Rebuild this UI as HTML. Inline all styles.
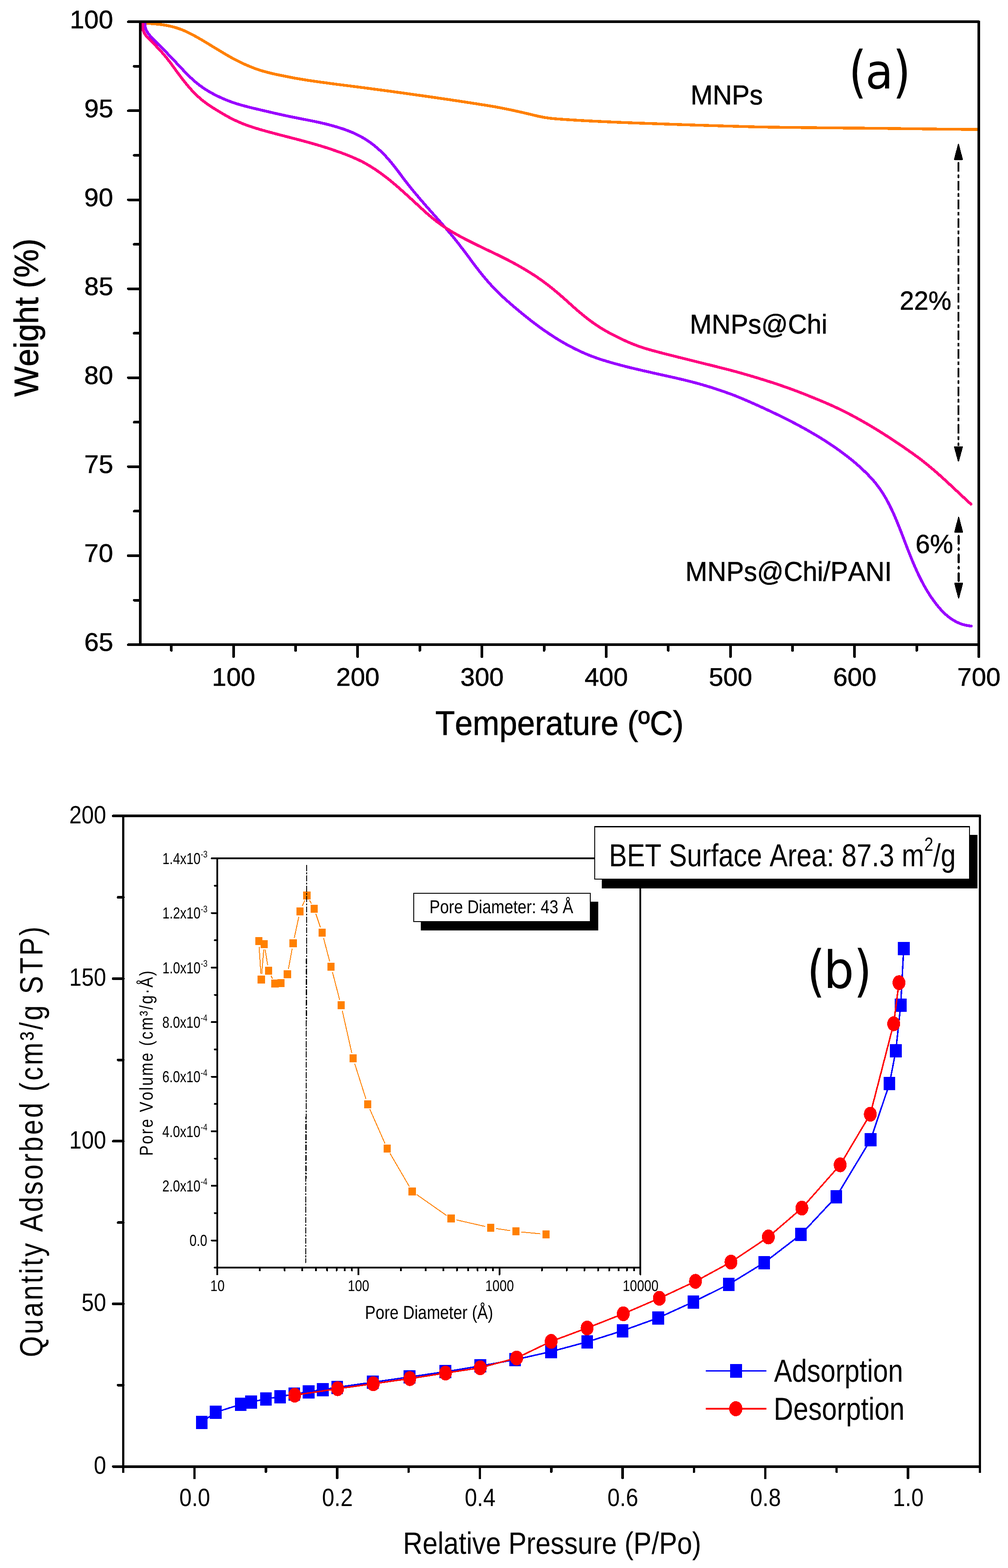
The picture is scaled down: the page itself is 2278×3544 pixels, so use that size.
<!DOCTYPE html>
<html lang="en"><head><meta charset="utf-8"><title>TGA curves and N2 adsorption-desorption isotherm</title>
<style>
html,body{margin:0;padding:0;background:#fff;}
body{width:2278px;height:3544px;overflow:hidden;}
svg{display:block;shape-rendering:crispEdges;}
text{font-family:"Liberation Sans",Arial,Helvetica,sans-serif;fill:#000;white-space:pre;font-kerning:none;font-variant-ligatures:none;text-rendering:geometricPrecision;}
.dv{font-family:"DejaVu Sans","Liberation Sans",sans-serif;}
.ax{stroke:#000;fill:none;stroke-linecap:round;}
.cr{shape-rendering:crispEdges;}
</style></head><body>
<svg width="2278" height="3544" viewBox="0 0 2278 3544" role="img" aria-label="TGA curves (a) and nitrogen adsorption-desorption isotherm with pore size distribution (b)">
<rect x="0" y="0" width="2278" height="3544" fill="#fff"/>
<g id="panel-a">
<path d="M321 52.2C323.08 52.3 329.37 52.58 333.5 52.83C337.63 53.07 341.72 53.32 345.79 53.65C349.85 53.98 353.88 54.34 357.87 54.79C361.86 55.23 365.82 55.73 369.75 56.34C373.68 56.95 377.57 57.64 381.43 58.45C385.29 59.26 389.12 60.16 392.92 61.2C396.71 62.24 400.48 63.41 404.21 64.7C407.94 66 411.64 67.42 415.32 68.97C419 70.51 422.65 72.22 426.29 73.99C429.92 75.76 433.53 77.66 437.12 79.58C440.72 81.51 444.29 83.51 447.86 85.54C451.43 87.56 454.98 89.63 458.54 91.73C462.09 93.83 465.63 96 469.17 98.15C472.71 100.29 476.24 102.46 479.77 104.61C483.31 106.76 486.84 108.92 490.37 111.06C493.91 113.2 497.44 115.33 500.98 117.45C504.53 119.56 508.07 121.68 511.62 123.75C515.17 125.82 518.73 127.88 522.29 129.86C525.86 131.83 529.43 133.74 533.02 135.6C536.61 137.46 540.21 139.28 543.82 141.02C547.44 142.75 551.07 144.39 554.71 146.01C558.36 147.62 562.02 149.19 565.71 150.7C569.39 152.2 573.09 153.69 576.82 155.05C580.54 156.4 584.29 157.64 588.06 158.83C591.83 160.02 595.63 161.11 599.44 162.17C603.25 163.22 607.09 164.21 610.94 165.16C614.79 166.1 618.66 166.99 622.54 167.84C626.42 168.68 630.33 169.44 634.24 170.23C638.16 171.03 642.09 171.83 646.03 172.63C649.97 173.43 653.93 174.27 657.89 175.04C661.86 175.81 665.83 176.54 669.82 177.26C673.8 177.97 677.8 178.64 681.8 179.3C685.79 179.96 689.8 180.6 693.81 181.21C697.82 181.83 701.84 182.43 705.86 183.01C709.88 183.6 713.9 184.17 717.93 184.73C721.95 185.29 725.97 185.84 730 186.39C734.02 186.94 738.04 187.48 742.06 188.03C746.08 188.57 750.1 189.13 754.11 189.66C758.13 190.2 762.14 190.72 766.14 191.23C770.15 191.74 774.16 192.22 778.16 192.72C782.16 193.22 786.15 193.72 790.15 194.23C794.15 194.73 798.14 195.24 802.13 195.75C806.12 196.26 810.11 196.78 814.09 197.29C818.08 197.81 822.07 198.33 826.05 198.85C830.03 199.37 834.01 199.89 837.99 200.42C841.97 200.94 845.95 201.47 849.93 202C853.91 202.53 857.88 203.06 861.86 203.6C865.83 204.13 869.81 204.67 873.78 205.21C877.76 205.75 881.73 206.29 885.71 206.83C889.68 207.38 893.65 207.92 897.63 208.47C901.6 209.02 905.58 209.57 909.55 210.12C913.53 210.67 917.5 211.23 921.48 211.78C925.46 212.34 929.43 212.9 933.41 213.46C937.39 214.02 941.37 214.58 945.35 215.14C949.33 215.7 953.31 216.27 957.3 216.84C961.28 217.4 965.27 217.97 969.26 218.54C973.24 219.12 977.23 219.69 981.22 220.26C985.21 220.84 989.2 221.42 993.19 222C997.19 222.58 1001.18 223.16 1005.17 223.74C1009.16 224.33 1013.15 224.92 1017.14 225.51C1021.13 226.1 1025.12 226.69 1029.11 227.29C1033.1 227.89 1037.09 228.49 1041.08 229.09C1045.07 229.69 1049.05 230.3 1053.04 230.91C1057.02 231.52 1061.01 232.13 1064.99 232.75C1068.97 233.37 1072.95 233.99 1076.92 234.62C1080.9 235.24 1084.87 235.87 1088.84 236.51C1092.81 237.14 1096.78 237.78 1100.74 238.42C1104.7 239.06 1108.66 239.69 1112.62 240.36C1116.58 241.03 1120.53 241.71 1124.48 242.44C1128.43 243.17 1132.37 243.96 1136.32 244.74C1140.27 245.52 1144.21 246.31 1148.15 247.12C1152.1 247.93 1156.04 248.76 1159.99 249.6C1163.93 250.45 1167.88 251.31 1171.83 252.2C1175.78 253.09 1179.73 253.99 1183.68 254.92C1187.64 255.84 1191.59 256.79 1195.55 257.74C1199.52 258.69 1203.48 259.69 1207.45 260.62C1211.42 261.55 1215.39 262.49 1219.37 263.32C1223.34 264.15 1227.32 264.95 1231.3 265.61C1235.28 266.28 1239.27 266.83 1243.26 267.31C1247.24 267.79 1251.23 268.14 1255.23 268.49C1259.22 268.84 1263.21 269.12 1267.21 269.41C1271.21 269.7 1275.21 269.96 1279.21 270.23C1283.21 270.49 1287.22 270.75 1291.22 271.01C1295.23 271.26 1299.24 271.5 1303.25 271.74C1307.26 271.98 1311.27 272.21 1315.28 272.44C1319.3 272.67 1323.31 272.89 1327.33 273.1C1331.34 273.32 1335.36 273.53 1339.38 273.73C1343.4 273.94 1347.42 274.14 1351.44 274.33C1355.46 274.53 1359.49 274.72 1363.51 274.91C1367.54 275.1 1371.56 275.29 1375.59 275.47C1379.62 275.66 1383.64 275.84 1387.67 276.01C1391.7 276.19 1395.73 276.36 1399.76 276.53C1403.79 276.7 1407.82 276.86 1411.85 277.03C1415.88 277.19 1419.91 277.35 1423.95 277.5C1427.98 277.66 1432.01 277.81 1436.04 277.96C1440.08 278.12 1444.11 278.26 1448.14 278.41C1452.18 278.56 1456.21 278.7 1460.24 278.84C1464.28 278.98 1468.31 279.12 1472.34 279.26C1476.38 279.4 1480.41 279.54 1484.44 279.69C1488.47 279.83 1492.51 279.99 1496.54 280.13C1500.57 280.28 1504.6 280.42 1508.64 280.57C1512.67 280.71 1516.7 280.85 1520.73 280.99C1524.76 281.14 1528.79 281.28 1532.82 281.42C1536.86 281.55 1540.89 281.69 1544.92 281.83C1548.95 281.97 1552.98 282.1 1557.01 282.24C1561.04 282.37 1565.07 282.5 1569.1 282.64C1573.13 282.77 1577.16 282.9 1581.19 283.03C1585.22 283.16 1589.25 283.29 1593.28 283.42C1597.31 283.54 1601.34 283.67 1605.37 283.8C1609.39 283.92 1613.42 284.05 1617.45 284.17C1621.48 284.29 1625.51 284.41 1629.54 284.54C1633.57 284.66 1637.6 284.78 1641.62 284.9C1645.65 285.02 1649.68 285.13 1653.71 285.25C1657.74 285.37 1661.76 285.48 1665.79 285.6C1669.82 285.71 1673.85 285.83 1677.87 285.94C1681.9 286.06 1685.93 286.17 1689.96 286.28C1693.98 286.39 1698.01 286.5 1702.04 286.61C1706.07 286.72 1710.09 286.84 1714.12 286.93C1718.15 287.03 1722.17 287.11 1726.2 287.18C1730.23 287.26 1734.25 287.3 1738.28 287.36C1742.31 287.42 1746.34 287.48 1750.36 287.53C1754.39 287.59 1758.41 287.65 1762.44 287.7C1766.47 287.76 1770.49 287.81 1774.52 287.86C1778.55 287.92 1782.57 287.97 1786.6 288.02C1790.63 288.07 1794.65 288.12 1798.68 288.17C1802.71 288.22 1806.73 288.27 1810.76 288.32C1814.78 288.37 1818.81 288.42 1822.84 288.46C1826.86 288.51 1830.89 288.55 1834.92 288.6C1838.94 288.64 1842.97 288.69 1846.99 288.73C1851.02 288.78 1855.05 288.82 1859.07 288.86C1863.1 288.9 1867.13 288.94 1871.15 288.98C1875.18 289.02 1879.21 289.06 1883.23 289.1C1887.26 289.14 1891.28 289.18 1895.31 289.22C1899.34 289.25 1903.36 289.29 1907.39 289.33C1911.42 289.36 1915.44 289.4 1919.47 289.43C1923.5 289.47 1927.52 289.5 1931.55 289.53C1935.58 289.57 1939.6 289.6 1943.63 289.63C1947.66 289.66 1951.69 289.69 1955.71 289.73C1959.74 289.76 1963.77 289.78 1967.79 289.81C1971.82 289.85 1975.85 289.89 1979.88 289.94C1983.9 289.99 1987.93 290.05 1991.96 290.11C1995.99 290.17 2000.01 290.22 2004.04 290.28C2008.07 290.34 2012.1 290.39 2016.13 290.44C2020.15 290.5 2024.18 290.55 2028.21 290.61C2032.24 290.66 2036.27 290.71 2040.3 290.77C2044.33 290.82 2048.35 290.87 2052.38 290.92C2056.41 290.97 2060.44 291.02 2064.47 291.07C2068.5 291.13 2072.53 291.18 2076.56 291.22C2080.59 291.27 2084.62 291.32 2088.65 291.37C2092.68 291.42 2096.71 291.47 2100.74 291.52C2104.77 291.56 2108.8 291.61 2112.83 291.66C2116.86 291.7 2120.89 291.75 2124.92 291.8C2128.95 291.84 2132.98 291.89 2137.01 291.93C2141.04 291.98 2145.08 292.02 2149.11 292.06C2153.14 292.11 2157.17 292.15 2161.2 292.2C2165.24 292.24 2169.27 292.28 2173.3 292.33C2177.33 292.37 2181.37 292.41 2185.4 292.45C2189.43 292.49 2193.47 292.54 2197.5 292.58C2201.53 292.62 2207.58 292.68 2209.6 292.7" fill="none" stroke="#FF8000" stroke-width="6.4" stroke-linecap="round" stroke-linejoin="round"/>
<path d="M327.5 52.16C327.75 54.18 327.86 60.5 329.03 64.28C330.2 68.07 332.28 71.52 334.52 74.87C336.75 78.22 339.64 81.32 342.43 84.4C345.22 87.47 348.33 90.39 351.25 93.33C354.16 96.27 357.06 99.16 359.92 102.05C362.78 104.93 365.6 107.78 368.41 110.64C371.21 113.49 373.98 116.33 376.75 119.18C379.52 122.03 382.26 124.87 385.01 127.74C387.76 130.6 390.5 133.47 393.25 136.39C396.01 139.3 398.76 142.24 401.53 145.2C404.31 148.16 407.09 151.17 409.91 154.16C412.72 157.15 415.55 160.17 418.43 163.13C421.31 166.09 424.21 169.03 427.17 171.91C430.13 174.78 433.12 177.62 436.18 180.37C439.23 183.11 442.34 185.8 445.51 188.37C448.69 190.94 451.93 193.41 455.22 195.78C458.52 198.15 461.88 200.41 465.29 202.59C468.7 204.77 472.17 206.84 475.68 208.84C479.19 210.84 482.76 212.75 486.36 214.58C489.95 216.42 493.6 218.17 497.27 219.86C500.94 221.55 504.65 223.16 508.39 224.71C512.12 226.27 515.89 227.78 519.67 229.18C523.46 230.59 527.27 231.89 531.08 233.16C534.9 234.42 538.74 235.64 542.58 236.77C546.43 237.9 550.28 238.92 554.13 239.94C557.99 240.96 561.85 241.94 565.71 242.91C569.57 243.87 573.44 244.8 577.31 245.73C581.18 246.65 585.06 247.56 588.94 248.46C592.82 249.37 596.7 250.26 600.59 251.17C604.48 252.08 608.38 252.99 612.28 253.9C616.18 254.81 620.08 255.75 623.99 256.64C627.9 257.53 631.82 258.37 635.74 259.23C639.66 260.09 643.59 260.95 647.52 261.79C651.45 262.63 655.39 263.47 659.33 264.28C663.28 265.09 667.23 265.87 671.18 266.65C675.14 267.44 679.1 268.2 683.07 268.97C687.03 269.74 691.01 270.51 694.99 271.29C698.96 272.08 702.95 272.86 706.93 273.68C710.91 274.49 714.89 275.32 718.86 276.19C722.83 277.05 726.8 277.94 730.76 278.87C734.71 279.81 738.66 280.77 742.58 281.8C746.5 282.82 750.41 283.9 754.3 285.01C758.18 286.11 762.05 287.24 765.88 288.43C769.72 289.61 773.53 290.81 777.3 292.11C781.07 293.42 784.82 294.79 788.52 296.24C792.22 297.7 795.89 299.23 799.51 300.85C803.13 302.47 806.71 304.17 810.24 305.96C813.77 307.75 817.25 309.62 820.68 311.61C824.1 313.61 827.48 315.73 830.79 317.94C834.1 320.14 837.36 322.45 840.55 324.86C843.74 327.26 846.87 329.77 849.93 332.36C853 334.95 856 337.64 858.95 340.38C861.89 343.13 864.78 345.97 867.6 348.85C870.43 351.74 873.2 354.68 875.91 357.69C878.62 360.69 881.26 363.77 883.86 366.89C886.46 370.01 888.99 373.2 891.49 376.38C894 379.57 896.44 382.79 898.89 386.02C901.33 389.24 903.73 392.47 906.16 395.71C908.58 398.94 910.98 402.19 913.42 405.42C915.86 408.65 918.3 411.89 920.79 415.09C923.28 418.28 925.8 421.46 928.35 424.61C930.9 427.76 933.49 430.87 936.09 434.01C938.7 437.15 941.33 440.3 943.98 443.44C946.64 446.59 949.31 449.73 952 452.86C954.69 455.98 957.4 459.09 960.11 462.2C962.83 465.31 965.56 468.4 968.3 471.5C971.03 474.59 973.77 477.68 976.52 480.77C979.26 483.85 982.01 486.94 984.75 490.02C987.49 493.11 990.24 496.2 992.97 499.29C995.7 502.38 998.43 505.48 1001.15 508.58C1003.86 511.69 1006.57 514.8 1009.25 517.93C1011.94 521.05 1014.61 524.19 1017.26 527.34C1019.91 530.49 1022.54 533.65 1025.14 536.83C1027.74 540.02 1030.32 543.21 1032.86 546.43C1035.41 549.65 1037.93 552.93 1040.41 556.15C1042.89 559.36 1045.33 562.55 1047.76 565.75C1050.19 568.96 1052.59 572.16 1054.98 575.37C1057.38 578.58 1059.76 581.81 1062.15 585.03C1064.54 588.25 1066.93 591.49 1069.34 594.71C1071.75 597.93 1074.16 601.16 1076.61 604.36C1079.06 607.57 1081.54 610.77 1084.05 613.95C1086.56 617.13 1089.11 620.29 1091.69 623.42C1094.27 626.55 1096.88 629.67 1099.52 632.74C1102.16 635.81 1104.84 638.86 1107.55 641.86C1110.26 644.85 1113 647.82 1115.77 650.73C1118.55 653.64 1121.36 656.5 1124.19 659.32C1127.03 662.14 1129.9 664.9 1132.8 667.63C1135.69 670.37 1138.62 673.05 1141.56 675.72C1144.51 678.39 1147.49 681.03 1150.48 683.66C1153.47 686.28 1156.49 688.89 1159.52 691.49C1162.55 694.09 1165.61 696.68 1168.68 699.27C1171.74 701.85 1174.83 704.43 1177.94 706.99C1181.04 709.55 1184.17 712.1 1187.31 714.62C1190.45 717.14 1193.61 719.65 1196.79 722.14C1199.97 724.62 1203.17 727.1 1206.39 729.54C1209.61 731.99 1212.85 734.41 1216.1 736.81C1219.36 739.21 1222.64 741.58 1225.93 743.92C1229.23 746.27 1232.55 748.58 1235.88 750.86C1239.22 753.14 1242.57 755.4 1245.95 757.61C1249.32 759.82 1252.72 762.01 1256.14 764.15C1259.55 766.29 1262.99 768.39 1266.45 770.45C1269.9 772.51 1273.38 774.53 1276.88 776.5C1280.38 778.47 1283.9 780.4 1287.44 782.28C1290.98 784.16 1294.55 785.97 1298.13 787.77C1301.71 789.57 1305.32 791.35 1308.95 793.06C1312.57 794.78 1316.22 796.44 1319.89 798.05C1323.57 799.65 1327.26 801.2 1330.97 802.69C1334.69 804.18 1338.43 805.6 1342.18 806.97C1345.94 808.35 1349.72 809.67 1353.51 810.94C1357.31 812.22 1361.12 813.45 1364.95 814.65C1368.78 815.84 1372.63 817 1376.49 818.13C1380.34 819.26 1384.22 820.35 1388.1 821.44C1391.99 822.52 1395.89 823.57 1399.79 824.62C1403.7 825.67 1407.61 826.71 1411.54 827.73C1415.46 828.75 1419.39 829.76 1423.33 830.73C1427.27 831.7 1431.21 832.61 1435.15 833.53C1439.1 834.46 1443.05 835.38 1447 836.3C1450.95 837.21 1454.9 838.12 1458.85 839.03C1462.8 839.93 1466.76 840.83 1470.7 841.72C1474.65 842.61 1478.6 843.5 1482.54 844.38C1486.48 845.26 1490.41 846.13 1494.34 847.01C1498.27 847.88 1502.2 848.75 1506.11 849.62C1510.03 850.5 1513.94 851.37 1517.85 852.25C1521.76 853.14 1525.66 854.02 1529.55 854.92C1533.45 855.82 1537.34 856.72 1541.22 857.65C1545.11 858.57 1548.99 859.51 1552.86 860.47C1556.73 861.43 1560.6 862.4 1564.46 863.4C1568.32 864.4 1572.18 865.42 1576.03 866.47C1579.88 867.52 1583.72 868.6 1587.56 869.71C1591.4 870.82 1595.23 871.96 1599.06 873.12C1602.89 874.28 1606.71 875.47 1610.52 876.69C1614.34 877.9 1618.15 879.14 1621.95 880.41C1625.76 881.67 1629.56 882.96 1633.35 884.27C1637.14 885.58 1640.93 886.92 1644.71 888.27C1648.49 889.63 1652.26 890.97 1656.03 892.4C1659.8 893.83 1663.57 895.34 1667.32 896.87C1671.08 898.4 1674.83 899.98 1678.58 901.57C1682.32 903.15 1686.06 904.75 1689.8 906.37C1693.53 907.98 1697.26 909.61 1700.98 911.26C1704.71 912.9 1708.42 914.57 1712.13 916.24C1715.84 917.91 1719.55 919.6 1723.25 921.3C1726.95 922.99 1730.64 924.7 1734.33 926.42C1738.01 928.14 1741.69 929.87 1745.37 931.61C1749.04 933.35 1752.71 935.11 1756.37 936.87C1760.03 938.64 1763.68 940.42 1767.32 942.22C1770.96 944.01 1774.6 945.82 1778.22 947.64C1781.84 949.47 1785.46 951.31 1789.06 953.17C1792.67 955.03 1796.26 956.91 1799.84 958.8C1803.42 960.7 1806.99 962.62 1810.55 964.55C1814.1 966.49 1817.65 968.45 1821.18 970.42C1824.71 972.4 1828.22 974.41 1831.72 976.43C1835.23 978.45 1838.71 980.5 1842.19 982.55C1845.66 984.61 1849.11 986.66 1852.55 988.76C1855.99 990.86 1859.42 992.99 1862.82 995.15C1866.23 997.31 1869.62 999.49 1872.99 1001.71C1876.36 1003.92 1879.71 1006.16 1883.04 1008.44C1886.37 1010.72 1889.69 1013.02 1892.98 1015.36C1896.27 1017.7 1899.54 1020.07 1902.79 1022.48C1906.04 1024.88 1909.27 1027.32 1912.48 1029.8C1915.69 1032.28 1918.88 1034.79 1922.04 1037.33C1925.2 1039.88 1928.34 1042.47 1931.45 1045.09C1934.55 1047.72 1937.64 1050.38 1940.68 1053.09C1943.71 1055.8 1946.72 1058.56 1949.67 1061.34C1952.62 1064.13 1955.53 1066.95 1958.38 1069.79C1961.23 1072.64 1964.03 1075.5 1966.75 1078.42C1969.47 1081.34 1972.14 1084.28 1974.73 1087.3C1977.31 1090.32 1979.83 1093.39 1982.26 1096.53C1984.69 1099.67 1987.04 1102.88 1989.3 1106.13C1991.57 1109.38 1993.74 1112.68 1995.85 1116.03C1997.95 1119.38 1999.98 1122.79 2001.94 1126.24C2003.91 1129.68 2005.8 1133.18 2007.64 1136.7C2009.49 1140.22 2011.27 1143.78 2013 1147.36C2014.74 1150.94 2016.42 1154.55 2018.07 1158.17C2019.72 1161.78 2021.33 1165.42 2022.91 1169.08C2024.48 1172.73 2026.02 1176.4 2027.54 1180.07C2029.06 1183.75 2030.55 1187.44 2032.02 1191.13C2033.5 1194.83 2034.95 1198.55 2036.39 1202.26C2037.83 1205.98 2039.26 1209.7 2040.69 1213.42C2042.11 1217.14 2043.53 1220.87 2044.95 1224.59C2046.38 1228.32 2047.8 1232.04 2049.23 1235.76C2050.66 1239.48 2052.1 1243.19 2053.56 1246.9C2055.01 1250.61 2056.48 1254.33 2057.97 1258.02C2059.46 1261.72 2060.97 1265.41 2062.51 1269.09C2064.04 1272.77 2065.6 1276.45 2067.2 1280.1C2068.79 1283.76 2070.41 1287.4 2072.08 1291.03C2073.74 1294.65 2075.44 1298.25 2077.18 1301.84C2078.93 1305.42 2080.71 1308.99 2082.55 1312.56C2084.39 1316.12 2086.27 1319.69 2088.22 1323.21C2090.16 1326.73 2092.16 1330.23 2094.22 1333.69C2096.29 1337.15 2098.41 1340.58 2100.61 1343.97C2102.81 1347.37 2105.08 1350.72 2107.43 1354.04C2109.78 1357.36 2112.2 1360.61 2114.71 1363.87C2117.22 1367.13 2119.81 1370.44 2122.5 1373.58C2125.19 1376.72 2127.96 1379.8 2130.84 1382.71C2133.72 1385.63 2136.69 1388.44 2139.77 1391.06C2142.86 1393.67 2146.04 1396.14 2149.34 1398.41C2152.64 1400.67 2156.05 1402.78 2159.59 1404.65C2163.12 1406.52 2166.77 1408.23 2170.55 1409.64C2174.33 1411.06 2178.23 1412.22 2182.27 1413.13C2186.32 1414.04 2192.71 1414.76 2194.8 1415.09" fill="none" stroke="#9900FF" stroke-width="6.4" stroke-linecap="round" stroke-linejoin="round"/>
<path d="M322.7 51.66C322.67 53.79 321.91 60.54 322.5 64.43C323.09 68.32 324.53 71.78 326.23 75C327.93 78.23 330.27 81.02 332.67 83.79C335.07 86.57 337.89 88.89 340.63 91.66C343.36 94.43 346.25 97.47 349.09 100.41C351.93 103.36 354.84 106.34 357.66 109.34C360.49 112.35 363.34 115.38 366.06 118.43C368.78 121.48 371.43 124.56 373.98 127.66C376.54 130.75 378.98 133.87 381.39 137.01C383.81 140.14 386.14 143.28 388.48 146.45C390.81 149.62 393.1 152.82 395.43 156.03C397.76 159.23 400.07 162.47 402.45 165.69C404.83 168.91 407.23 172.15 409.69 175.35C412.15 178.56 414.64 181.74 417.2 184.92C419.75 188.11 422.35 191.31 425.02 194.45C427.69 197.6 430.42 200.74 433.21 203.78C436.01 206.83 438.87 209.82 441.8 212.72C444.73 215.62 447.72 218.45 450.79 221.16C453.86 223.88 457 226.5 460.2 229.01C463.41 231.52 466.7 233.9 470.03 236.22C473.36 238.54 476.76 240.74 480.19 242.93C483.61 245.13 487.09 247.25 490.58 249.38C494.07 251.51 497.6 253.63 501.14 255.71C504.68 257.8 508.25 259.88 511.84 261.89C515.43 263.9 519.05 265.9 522.68 267.76C526.31 269.62 529.97 271.36 533.65 273.06C537.32 274.76 541.02 276.39 544.73 277.95C548.44 279.5 552.18 280.98 555.92 282.39C559.67 283.79 563.44 285.09 567.22 286.36C571.01 287.62 574.8 288.81 578.62 289.97C582.43 291.14 586.26 292.25 590.1 293.35C593.94 294.46 597.79 295.53 601.66 296.6C605.52 297.67 609.4 298.72 613.28 299.76C617.17 300.81 621.07 301.84 624.97 302.86C628.87 303.89 632.78 304.91 636.69 305.92C640.6 306.94 644.52 307.95 648.44 308.97C652.37 309.98 656.29 310.99 660.22 312.01C664.14 313.03 668.07 314.05 671.99 315.08C675.92 316.11 679.84 317.15 683.76 318.2C687.68 319.25 691.6 320.31 695.51 321.39C699.42 322.47 703.33 323.56 707.23 324.67C711.13 325.78 715.02 326.91 718.9 328.06C722.79 329.21 726.66 330.39 730.52 331.59C734.38 332.79 738.23 334.01 742.07 335.27C745.9 336.53 749.73 337.83 753.53 339.13C757.34 340.44 761.13 341.76 764.9 343.1C768.67 344.44 772.43 345.77 776.16 347.17C779.9 348.57 783.61 350 787.31 351.48C791 352.96 794.67 354.49 798.32 356.06C801.96 357.64 805.59 359.26 809.19 360.94C812.78 362.62 816.35 364.28 819.9 366.13C823.44 367.98 826.95 370.01 830.44 372.03C833.92 374.06 837.38 376.15 840.8 378.3C844.22 380.45 847.61 382.66 850.96 384.93C854.32 387.2 857.64 389.54 860.94 391.92C864.23 394.31 867.5 396.75 870.73 399.23C873.97 401.71 877.18 404.24 880.37 406.81C883.55 409.38 886.71 412.01 889.85 414.65C892.99 417.3 896.1 419.99 899.19 422.68C902.29 425.38 905.36 428.1 908.41 430.82C911.47 433.55 914.5 436.3 917.52 439.03C920.54 441.77 923.55 444.49 926.54 447.22C929.53 449.95 932.5 452.7 935.47 455.43C938.43 458.16 941.38 460.9 944.33 463.62C947.27 466.33 950.2 469.05 953.13 471.74C956.07 474.43 958.99 477.11 961.95 479.75C964.91 482.4 967.87 485.03 970.9 487.62C973.93 490.21 976.99 492.77 980.13 495.29C983.27 497.8 986.48 500.29 989.74 502.71C993 505.14 996.33 507.53 999.68 509.86C1003.04 512.18 1006.44 514.45 1009.86 516.66C1013.29 518.87 1016.74 521.02 1020.21 523.11C1023.68 525.21 1027.18 527.24 1030.69 529.24C1034.2 531.23 1037.73 533.17 1041.28 535.08C1044.83 537 1048.39 538.85 1051.97 540.71C1055.55 542.56 1059.14 544.4 1062.74 546.21C1066.34 548.02 1069.95 549.8 1073.57 551.57C1077.18 553.35 1080.81 555.1 1084.43 556.86C1088.06 558.61 1091.69 560.35 1095.33 562.11C1098.96 563.86 1102.59 565.63 1106.22 567.36C1109.85 569.09 1113.48 570.75 1117.1 572.48C1120.73 574.2 1124.34 575.94 1127.95 577.71C1131.56 579.47 1135.16 581.26 1138.75 583.07C1142.34 584.88 1145.93 586.71 1149.49 588.57C1153.06 590.43 1156.62 592.31 1160.16 594.23C1163.7 596.14 1167.22 598.08 1170.73 600.05C1174.23 602.01 1177.73 604.01 1181.2 606.04C1184.66 608.07 1188.12 610.13 1191.54 612.22C1194.97 614.31 1198.38 616.43 1201.76 618.59C1205.14 620.75 1208.5 622.94 1211.82 625.17C1215.15 627.4 1218.46 629.67 1221.73 631.97C1225 634.27 1228.25 636.61 1231.46 639C1234.67 641.38 1237.85 643.8 1241 646.26C1244.14 648.72 1247.25 651.23 1250.34 653.76C1253.43 656.29 1256.49 658.86 1259.54 661.44C1262.59 664.02 1265.62 666.61 1268.64 669.25C1271.67 671.89 1274.67 674.57 1277.69 677.26C1280.7 679.95 1283.71 682.69 1286.73 685.4C1289.75 688.11 1292.78 690.84 1295.82 693.54C1298.87 696.24 1301.92 698.93 1305 701.59C1308.09 704.26 1311.19 706.9 1314.33 709.51C1317.47 712.11 1320.64 714.7 1323.85 717.23C1327.06 719.76 1330.3 722.26 1333.58 724.7C1336.86 727.13 1340.18 729.53 1343.53 731.86C1346.88 734.19 1350.26 736.47 1353.68 738.67C1357.09 740.87 1360.54 743 1364.02 745.06C1367.5 747.13 1371.02 749.11 1374.56 751.05C1378.1 752.99 1381.67 754.87 1385.27 756.72C1388.86 758.57 1392.49 760.38 1396.13 762.17C1399.78 763.96 1403.45 765.73 1407.14 767.47C1410.84 769.21 1414.55 770.97 1418.29 772.62C1422.02 774.26 1425.77 775.82 1429.54 777.34C1433.31 778.85 1437.1 780.31 1440.9 781.7C1444.7 783.08 1448.51 784.4 1452.34 785.65C1456.16 786.9 1460 788.06 1463.85 789.2C1467.7 790.33 1471.55 791.4 1475.42 792.46C1479.28 793.52 1483.15 794.54 1487.03 795.56C1490.9 796.58 1494.78 797.59 1498.66 798.6C1502.55 799.6 1506.43 800.6 1510.32 801.6C1514.21 802.59 1518.11 803.58 1522.01 804.56C1525.9 805.55 1529.8 806.53 1533.71 807.51C1537.61 808.48 1541.52 809.46 1545.42 810.43C1549.33 811.4 1553.24 812.37 1557.15 813.33C1561.07 814.3 1564.98 815.27 1568.9 816.24C1572.81 817.2 1576.73 818.17 1580.64 819.14C1584.56 820.1 1588.48 821.07 1592.4 822.04C1596.31 823.01 1600.23 823.98 1604.15 824.96C1608.07 825.93 1611.99 826.91 1615.91 827.89C1619.82 828.87 1623.74 829.86 1627.66 830.85C1631.57 831.84 1635.49 832.84 1639.4 833.84C1643.31 834.84 1647.23 835.84 1651.14 836.87C1655.05 837.89 1658.95 838.91 1662.86 839.98C1666.77 841.05 1670.67 842.17 1674.57 843.28C1678.47 844.39 1682.37 845.5 1686.26 846.63C1690.16 847.76 1694.05 848.89 1697.93 850.04C1701.82 851.19 1705.7 852.35 1709.58 853.52C1713.46 854.69 1717.34 855.88 1721.21 857.07C1725.07 858.27 1728.94 859.48 1732.8 860.71C1736.66 861.93 1740.51 863.17 1744.36 864.42C1748.21 865.67 1752.06 866.94 1755.89 868.23C1759.73 869.51 1763.56 870.81 1767.39 872.13C1771.21 873.44 1775.03 874.78 1778.84 876.13C1782.65 877.48 1786.45 878.85 1790.25 880.24C1794.05 881.63 1797.84 883.04 1801.62 884.47C1805.4 885.9 1809.17 887.34 1812.94 888.81C1816.7 890.28 1820.46 891.77 1824.2 893.28C1827.95 894.8 1831.69 896.36 1835.42 897.89C1839.15 899.41 1842.87 900.91 1846.58 902.43C1850.29 903.94 1853.99 905.43 1857.68 906.97C1861.37 908.51 1865.05 910.08 1868.72 911.67C1872.38 913.26 1876.04 914.88 1879.69 916.53C1883.34 918.17 1886.97 919.84 1890.6 921.54C1894.22 923.24 1897.83 924.97 1901.43 926.73C1905.03 928.5 1908.62 930.3 1912.2 932.12C1915.78 933.95 1919.34 935.8 1922.9 937.67C1926.45 939.54 1930 941.44 1933.53 943.36C1937.06 945.28 1940.58 947.22 1944.09 949.18C1947.59 951.14 1951.09 953.13 1954.58 955.14C1958.06 957.14 1961.53 959.17 1964.99 961.21C1968.46 963.26 1971.91 965.32 1975.34 967.4C1978.78 969.48 1982.21 971.58 1985.63 973.7C1989.04 975.82 1992.44 977.95 1995.84 980.1C1999.23 982.24 2002.61 984.41 2005.98 986.58C2009.35 988.76 2012.7 990.95 2016.05 993.15C2019.39 995.36 2022.73 997.57 2026.05 999.8C2029.37 1002.03 2032.68 1004.26 2035.98 1006.51C2039.28 1008.76 2042.57 1011.02 2045.85 1013.29C2049.12 1015.56 2052.39 1017.83 2055.64 1020.12C2058.89 1022.41 2062.13 1024.71 2065.36 1027.03C2068.59 1029.35 2071.81 1031.66 2075.02 1034.04C2078.22 1036.43 2081.42 1038.86 2084.6 1041.34C2087.79 1043.83 2090.96 1046.39 2094.12 1048.96C2097.28 1051.52 2100.43 1054.12 2103.56 1056.74C2106.7 1059.37 2109.83 1062.02 2112.94 1064.71C2116.05 1067.4 2119.16 1070.13 2122.25 1072.87C2125.34 1075.61 2128.42 1078.39 2131.48 1081.17C2134.55 1083.95 2137.61 1086.76 2140.65 1089.57C2143.7 1092.38 2146.73 1095.2 2149.75 1098.02C2152.77 1100.83 2155.78 1103.66 2158.78 1106.47C2161.78 1109.28 2164.76 1112.09 2167.74 1114.88C2170.71 1117.67 2173.68 1120.45 2176.63 1123.2C2179.58 1125.95 2182.52 1128.69 2185.45 1131.39C2188.38 1134.08 2192.74 1138.06 2194.2 1139.39" fill="none" stroke="#FF0080" stroke-width="6.4" stroke-linecap="round" stroke-linejoin="round"/>
<g class="ax" stroke-width="6">
<path d="M290.2 49.3H2212M290.2 1457.1H2212M317.2 49.3V1457.1M2212 49.3V1484.1M290.2 250.41H317.2M290.2 451.53H317.2M290.2 652.64H317.2M290.2 853.76H317.2M290.2 1054.87H317.2M290.2 1255.99H317.2M303.4 149.86H317.2M303.4 350.97H317.2M303.4 552.09H317.2M303.4 753.2H317.2M303.4 954.31H317.2M303.4 1155.43H317.2M303.4 1356.54H317.2M527.73 1457.1V1484.1M808.44 1457.1V1484.1M1089.16 1457.1V1484.1M1369.87 1457.1V1484.1M1650.58 1457.1V1484.1M1931.29 1457.1V1484.1M387.38 1457.1V1469.9M668.09 1457.1V1469.9M948.8 1457.1V1469.9M1229.51 1457.1V1469.9M1510.22 1457.1V1469.9M1790.93 1457.1V1469.9M2071.64 1457.1V1469.9"/>
</g>
<text transform="translate(157.74 63.6) scale(1.0200 1)" font-size="57.5" stroke="#000" stroke-width="0.69">100</text>
<text transform="translate(190.53 264.71) scale(1.0200 1)" font-size="57.5" stroke="#000" stroke-width="0.69">95</text>
<text transform="translate(190.35 465.83) scale(1.0200 1)" font-size="57.5" stroke="#000" stroke-width="0.69">90</text>
<text transform="translate(190.53 666.94) scale(1.0200 1)" font-size="57.5" stroke="#000" stroke-width="0.69">85</text>
<text transform="translate(190.35 868.06) scale(1.0200 1)" font-size="57.5" stroke="#000" stroke-width="0.69">80</text>
<text transform="translate(190.53 1069.17) scale(1.0200 1)" font-size="57.5" stroke="#000" stroke-width="0.69">75</text>
<text transform="translate(190.35 1270.29) scale(1.0200 1)" font-size="57.5" stroke="#000" stroke-width="0.69">70</text>
<text transform="translate(190.53 1471.4) scale(1.0200 1)" font-size="57.5" stroke="#000" stroke-width="0.69">65</text>
<text transform="translate(479.11 1549.5) scale(1.0200 1)" font-size="57.5" stroke="#000" stroke-width="0.69">100</text>
<text transform="translate(759.82 1549.5) scale(1.0200 1)" font-size="57.5" stroke="#000" stroke-width="0.69">200</text>
<text transform="translate(1040.53 1549.5) scale(1.0200 1)" font-size="57.5" stroke="#000" stroke-width="0.69">300</text>
<text transform="translate(1321.24 1549.5) scale(1.0200 1)" font-size="57.5" stroke="#000" stroke-width="0.69">400</text>
<text transform="translate(1601.95 1549.5) scale(1.0200 1)" font-size="57.5" stroke="#000" stroke-width="0.69">500</text>
<text transform="translate(1882.66 1549.5) scale(1.0200 1)" font-size="57.5" stroke="#000" stroke-width="0.69">600</text>
<text transform="translate(2163.37 1549.5) scale(1.0200 1)" font-size="57.5" stroke="#000" stroke-width="0.69">700</text>
<text class="dv"><tspan x="1918.32" y="206.17" font-size="126.88" textLength="39.86" lengthAdjust="spacingAndGlyphs">(</tspan><tspan x="1955.74" y="200.35" font-size="109.37" textLength="62.88" lengthAdjust="spacingAndGlyphs">a</tspan><tspan x="2017.65" y="206.17" font-size="126.88" textLength="40.21" lengthAdjust="spacingAndGlyphs">)</tspan></text>
<text transform="translate(85.8 896.46) rotate(-90) scale(0.9411 1)" font-size="76.75" stroke="#000" stroke-width="0.92">Weight (%)</text>
<text transform="translate(983.83 1661.4) scale(0.9391 1)" font-size="77.04" stroke="#000" stroke-width="0.92">Temperature (ºC)</text>
<text transform="translate(1560.64 236.2) scale(0.9675 1)" font-size="62.07" stroke="#000" stroke-width="0.74">MNPs</text>
<text transform="translate(1558.9 754.1) scale(0.9607 1)" font-size="61.77" stroke="#000" stroke-width="0.74">MNPs@Chi</text>
<text transform="translate(1549.09 1312.6) scale(0.9598 1)" font-size="61.92" stroke="#000" stroke-width="0.74">MNPs@Chi/PANI</text>
<text transform="translate(2033.34 699.99) scale(0.9795 1)" font-size="59.47" stroke="#000" stroke-width="0.71">22%</text>
<text transform="translate(2068.98 1249.75) scale(0.9892 1)" font-size="59.42" stroke="#000" stroke-width="0.71">6%</text>
<path d="M2166 368.4V1006" stroke="#000" stroke-width="4.3" stroke-linecap="round" stroke-dasharray="18.0 9.8 4.6 9.87" fill="none"/>
<path d="M2166 326.2L2157.35 360.2L2174.65 360.2Z" fill="#000" stroke="#000" stroke-width="2.6" stroke-linejoin="round"/>
<path d="M2166 1042.3L2157.35 1010.3L2174.65 1010.3Z" fill="#000" stroke="#000" stroke-width="2.6" stroke-linejoin="round"/>
<path d="M2166.5 1211.2V1316" stroke="#000" stroke-width="4.3" stroke-linecap="round" stroke-dasharray="18.0 9.8 4.0 10.3" fill="none"/>
<path d="M2166.5 1169.3L2157.85 1203L2175.15 1203Z" fill="#000" stroke="#000" stroke-width="2.6" stroke-linejoin="round"/>
<path d="M2166.5 1351.6L2157.85 1318.4L2175.15 1318.4Z" fill="#000" stroke="#000" stroke-width="2.6" stroke-linejoin="round"/>
</g>
<g id="panel-b">
<g id="inset">
<path d="M585.61 2139.57L589.59 2201.13M591.46 2201.14L596.14 2145.96M599.18 2145.84L604.92 2181.56M612.43 2205.11L615.87 2212.09M651.85 2190L660.25 2144.2M665.12 2119.68L675.38 2071.72M683 2048.04L688.5 2035.46M699.57 2034.93L703.83 2042.57M713.85 2065.36L724.05 2096.04M731.17 2119.99L745.03 2172.91M751.33 2197.1L767.67 2260.3M773.54 2284.6L794.96 2379.8M801.5 2403.91L826.9 2483.59M835.75 2506.93L869.95 2584.37M881.29 2606.6L925.21 2682M941.73 2699.98L1009.07 2747.22M1031.48 2757.19L1096.52 2772.11M1121.06 2776.74L1153.44 2781.56M1178.25 2784.57L1221.45 2788.63" fill="none" stroke="#FF8000" stroke-width="2"/>
<path d="M576.6 2118.1h16.4v18h-16.4zM582.2 2204.6h16.4v18h-16.4zM589 2124.5h16.4v18h-16.4zM598.7 2184.9h16.4v18h-16.4zM613.2 2214.3h16.4v18h-16.4zM626.9 2213.1h16.4v18h-16.4zM641.4 2193.3h16.4v18h-16.4zM654.3 2122.9h16.4v18h-16.4zM669.8 2050.5h16.4v18h-16.4zM685.3 2015h16.4v18h-16.4zM701.7 2044.5h16.4v18h-16.4zM719.8 2098.9h16.4v18h-16.4zM740 2176h16.4v18h-16.4zM762.6 2263.4h16.4v18h-16.4zM789.5 2383h16.4v18h-16.4zM822.5 2486.5h16.4v18h-16.4zM866.8 2586.8h16.4v18h-16.4zM923.3 2683.8h16.4v18h-16.4zM1011.1 2745.4h16.4v18h-16.4zM1100.5 2765.9h16.4v18h-16.4zM1157.6 2774.4h16.4v18h-16.4zM1225.7 2780.8h16.4v18h-16.4z" fill="#FF8000"/>
<path d="M693.3 1956.2L690.8 2853.5" stroke="#000" stroke-width="2.4" stroke-linecap="round" stroke-dasharray="11.6 4.75 2.3 4.75" fill="none"/>
<g class="ax" stroke-width="4">
<path d="M478.4 1940.2H1447.3M485.3 2865H1447.3M491 1940.2V2880.6M1447.3 1940.2V2880.6M478.4 2803.5H491M478.4 2680.17H491M478.4 2556.84H491M478.4 2433.51H491M478.4 2310.18H491M478.4 2186.85H491M478.4 2063.52H491M485.3 2741.84H491M485.3 2618.51H491M485.3 2495.18H491M485.3 2371.85H491M485.3 2248.51H491M485.3 2125.18H491M485.3 2001.86H491M587.15 2865V2871.6M643.28 2865V2871.6M683.11 2865V2871.6M714 2865V2871.6M739.24 2865V2871.6M760.58 2865V2871.6M779.06 2865V2871.6M795.36 2865V2871.6M809.95 2865V2880.6M905.9 2865V2871.6M962.03 2865V2871.6M1001.86 2865V2871.6M1032.75 2865V2871.6M1057.99 2865V2871.6M1079.33 2865V2871.6M1097.81 2865V2871.6M1114.11 2865V2871.6M1128.7 2865V2880.6M1224.65 2865V2871.6M1280.78 2865V2871.6M1320.61 2865V2871.6M1351.5 2865V2871.6M1376.74 2865V2871.6M1398.08 2865V2871.6M1416.56 2865V2871.6M1432.86 2865V2871.6"/>
</g>
<text transform="translate(428.19 2816.2) scale(0.8000 1)" font-size="36">0.0</text>
<text transform="translate(366.67 2692.87) scale(0.8000 1)" font-size="36"><tspan>2.0x10</tspan><tspan font-size="21.6" dy="-14.4">-4</tspan></text>
<text transform="translate(366.67 2569.54) scale(0.8000 1)" font-size="36"><tspan>4.0x10</tspan><tspan font-size="21.6" dy="-14.4">-4</tspan></text>
<text transform="translate(366.67 2446.21) scale(0.8000 1)" font-size="36"><tspan>6.0x10</tspan><tspan font-size="21.6" dy="-14.4">-4</tspan></text>
<text transform="translate(366.67 2322.88) scale(0.8000 1)" font-size="36"><tspan>8.0x10</tspan><tspan font-size="21.6" dy="-14.4">-4</tspan></text>
<text transform="translate(366.92 2199.55) scale(0.8000 1)" font-size="36"><tspan>1.0x10</tspan><tspan font-size="21.6" dy="-14.4">-3</tspan></text>
<text transform="translate(366.92 2076.22) scale(0.8000 1)" font-size="36"><tspan>1.2x10</tspan><tspan font-size="21.6" dy="-14.4">-3</tspan></text>
<text transform="translate(366.92 1952.89) scale(0.8000 1)" font-size="36"><tspan>1.4x10</tspan><tspan font-size="21.6" dy="-14.4">-3</tspan></text>
<text transform="translate(475.34 2917.6) scale(0.8300 1)" font-size="35">10</text>
<text transform="translate(786.02 2917.6) scale(0.8300 1)" font-size="35">100</text>
<text transform="translate(1096.69 2917.6) scale(0.8300 1)" font-size="35">1000</text>
<text transform="translate(1407.36 2917.6) scale(0.8300 1)" font-size="35">10000</text>
<text transform="translate(345.2 2612.4) rotate(-90) scale(0.8400 1)" font-size="42.15" letter-spacing="3.37">Pore Volume (cm³/g·Å)</text>
<text transform="translate(824.65 2980.7) scale(0.8450 1)" font-size="42.59">Pore Diameter (Å)</text>
</g>
<rect class="cr" x="1359.8" y="1887.3" width="849.3" height="121" fill="#000"/>
<rect class="cr" x="1344.2" y="1868.7" width="846.9" height="118.6" fill="#fff" stroke="#000" stroke-width="2.4"/>
<text transform="translate(1376.19 1957.8) scale(0.8469 1)" font-size="72.09"><tspan>BET Surface Area: 87.3 m</tspan><tspan font-size="43.26" dy="-34.61">2</tspan><tspan dy="34.61">/g</tspan></text>
<rect class="cr" x="950.8" y="2037.6" width="401" height="65.2" fill="#000"/>
<rect class="cr" x="934.9" y="2019.3" width="399.2" height="63.4" fill="#fff" stroke="#000" stroke-width="1.8"/>
<text transform="translate(970.46 2063.9) scale(0.8514 1)" font-size="42.15">Pore Diameter: 43 Å</text>
<path d="M455.8 3214.5L487.6 3192L544 3174.2L567.3 3168.6L600.8 3162.2L633 3156.5L665.2 3150.9L697.4 3145.7L729.6 3140.8L761.8 3135.6L842.3 3124.3L925.3 3112.2L1006.7 3100.4L1085.3 3087.4L1163.9 3073.3L1245.6 3054.8L1326.9 3033L1407 3007.7L1487.5 2978.7L1566.8 2942.5L1647.1 2902.9L1727.2 2853.8L1810.1 2790.2L1889.9 2704.8L1967.6 2576L2010.2 2449.3L2024.5 2374.7L2035.5 2271.8L2042.3 2143.8" fill="none" stroke="#0000FF" stroke-width="3.4" stroke-linejoin="round"/>
<path d="M442.55 3199.5h26.5v30h-26.5zM474.35 3177h26.5v30h-26.5zM530.75 3159.2h26.5v30h-26.5zM554.05 3153.6h26.5v30h-26.5zM587.55 3147.2h26.5v30h-26.5zM619.75 3141.5h26.5v30h-26.5zM651.95 3135.9h26.5v30h-26.5zM684.15 3130.7h26.5v30h-26.5zM716.35 3125.8h26.5v30h-26.5zM748.55 3120.6h26.5v30h-26.5zM829.05 3109.3h26.5v30h-26.5zM912.05 3097.2h26.5v30h-26.5zM993.45 3085.4h26.5v30h-26.5zM1072.05 3072.4h26.5v30h-26.5zM1150.65 3058.3h26.5v30h-26.5zM1232.35 3039.8h26.5v30h-26.5zM1313.65 3018h26.5v30h-26.5zM1393.75 2992.7h26.5v30h-26.5zM1474.25 2963.7h26.5v30h-26.5zM1553.55 2927.5h26.5v30h-26.5zM1633.85 2887.9h26.5v30h-26.5zM1713.95 2838.8h26.5v30h-26.5zM1796.85 2775.2h26.5v30h-26.5zM1876.65 2689.8h26.5v30h-26.5zM1954.35 2561h26.5v30h-26.5zM1996.95 2434.3h26.5v30h-26.5zM2011.25 2359.7h26.5v30h-26.5zM2022.25 2256.8h26.5v30h-26.5zM2029.05 2128.8h26.5v30h-26.5z" fill="#0000FF"/>
<path d="M666 3153.3L763 3138.8L843.5 3127.5L926.1 3115.9L1006.7 3103.4L1085.3 3091.4L1167.5 3069.3L1245.6 3031.8L1326.9 3001.6L1408.6 2969.4L1490 2934.4L1571.8 2896.1L1651.9 2852.6L1736.5 2795.8L1812.2 2730.6L1898.7 2632.8L1966.8 2518.3L2019.6 2313.9L2031.6 2221.1" fill="none" stroke="#FF0000" stroke-width="3.4" stroke-linejoin="round"/>
<g fill="#FF0000">
<ellipse cx="666" cy="3153.3" rx="14.5" ry="16.8"/>
<ellipse cx="763" cy="3138.8" rx="14.5" ry="16.8"/>
<ellipse cx="843.5" cy="3127.5" rx="14.5" ry="16.8"/>
<ellipse cx="926.1" cy="3115.9" rx="14.5" ry="16.8"/>
<ellipse cx="1006.7" cy="3103.4" rx="14.5" ry="16.8"/>
<ellipse cx="1085.3" cy="3091.4" rx="14.5" ry="16.8"/>
<ellipse cx="1167.5" cy="3069.3" rx="14.5" ry="16.8"/>
<ellipse cx="1245.6" cy="3031.8" rx="14.5" ry="16.8"/>
<ellipse cx="1326.9" cy="3001.6" rx="14.5" ry="16.8"/>
<ellipse cx="1408.6" cy="2969.4" rx="14.5" ry="16.8"/>
<ellipse cx="1490" cy="2934.4" rx="14.5" ry="16.8"/>
<ellipse cx="1571.8" cy="2896.1" rx="14.5" ry="16.8"/>
<ellipse cx="1651.9" cy="2852.6" rx="14.5" ry="16.8"/>
<ellipse cx="1736.5" cy="2795.8" rx="14.5" ry="16.8"/>
<ellipse cx="1812.2" cy="2730.6" rx="14.5" ry="16.8"/>
<ellipse cx="1898.7" cy="2632.8" rx="14.5" ry="16.8"/>
<ellipse cx="1966.8" cy="2518.3" rx="14.5" ry="16.8"/>
<ellipse cx="2019.6" cy="2313.9" rx="14.5" ry="16.8"/>
<ellipse cx="2031.6" cy="2221.1" rx="14.5" ry="16.8"/>
</g>
<g class="ax">
<path d="M256 1844.3H2214.5M256 3314.6H2214.5M256 2947.03H278.6M256 2579.45H278.6M256 2211.88H278.6M267.2 3130.81H278.6M267.2 2763.24H278.6M267.2 2395.66H278.6M267.2 2028.09H278.6" stroke-width="6"/>
<path d="M278.6 1844.3V3326.6M2214.5 1844.3V3326.6M439.6 3314.6V3340.6M762.08 3314.6V3340.6M1084.56 3314.6V3340.6M1407.04 3314.6V3340.6M1729.52 3314.6V3340.6M2052 3314.6V3340.6M600.84 3314.6V3326.6M923.32 3314.6V3326.6M1245.8 3314.6V3326.6M1568.28 3314.6V3326.6M1890.76 3314.6V3326.6" stroke-width="5.4"/>
</g>
<text transform="translate(156.38 1860.7) scale(0.8850 1)" font-size="56.6">200</text>
<text transform="translate(156.38 2228.28) scale(0.8850 1)" font-size="56.6">150</text>
<text transform="translate(156.38 2595.85) scale(0.8850 1)" font-size="56.6">100</text>
<text transform="translate(184.24 2963.43) scale(0.8850 1)" font-size="56.6">50</text>
<text transform="translate(212.1 3331) scale(0.8850 1)" font-size="56.6">0</text>
<text transform="translate(405.28 3403.7) scale(0.8850 1)" font-size="56.6">0.0</text>
<text transform="translate(727.76 3403.7) scale(0.8850 1)" font-size="56.6">0.2</text>
<text transform="translate(1050.24 3403.7) scale(0.8850 1)" font-size="56.6">0.4</text>
<text transform="translate(1372.72 3403.7) scale(0.8850 1)" font-size="56.6">0.6</text>
<text transform="translate(1695.2 3403.7) scale(0.8850 1)" font-size="56.6">0.8</text>
<text transform="translate(2017.68 3403.7) scale(0.8850 1)" font-size="56.6">1.0</text>
<line x1="1594.5" y1="3098.4" x2="1731.5" y2="3098.4" stroke="#0000FF" stroke-width="3.4"/>
<rect x="1650.05" y="3083.15" width="26.5" height="30.5" fill="#0000FF"/>
<text transform="translate(1749.18 3122.7) scale(0.8497 1)" font-size="71.8">Adsorption</text>
<line x1="1594.5" y1="3184" x2="1731.5" y2="3184" stroke="#FF0000" stroke-width="3.4"/>
<ellipse cx="1662.8" cy="3184" rx="15" ry="17" fill="#FF0000"/>
<text transform="translate(1748.58 3208.6) scale(0.8518 1)" font-size="71.8">Desorption</text>
<text class="dv"><tspan x="1823.77" y="2238.05" font-size="126.32" textLength="40.56" lengthAdjust="spacingAndGlyphs">(</tspan><tspan x="1861.16" y="2232.75" font-size="116.29" textLength="68.76" lengthAdjust="spacingAndGlyphs">b</tspan><tspan x="1929.75" y="2238.05" font-size="126.32" textLength="40.21" lengthAdjust="spacingAndGlyphs">)</tspan></text>
<text transform="translate(96.2 3067.5) rotate(-90) scale(0.8400 1)" font-size="72.97" letter-spacing="5.02">Quantity Adsorbed (cm³/g STP)</text>
<text transform="translate(910.67 3511.8) scale(0.8763 1)" font-size="69.91">Relative Pressure (P/Po)</text>
</g>
</svg></body></html>
